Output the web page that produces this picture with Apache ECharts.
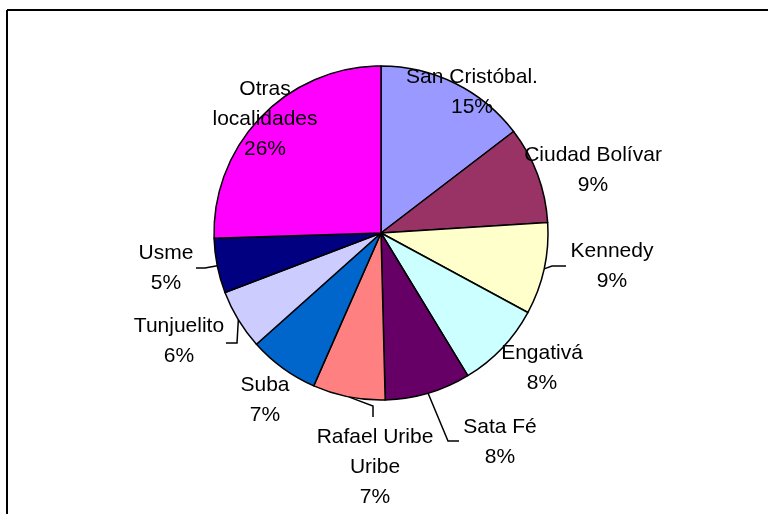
<!DOCTYPE html>
<html>
<head>
<meta charset="utf-8">
<script src="https://cdn.jsdelivr.net/npm/echarts@6/dist/echarts.min.js"></script>
<style>
    html, body { margin: 0; padding: 0; background: #fff; }
    #chart { width: 768px; height: 514px; }
</style>
</head>
<body>
<div id="chart"></div>
<script>
    // localidades, clockwise from 12 o'clock
    var names = ['San Cristóbal.', 'Ciudad Bolívar', 'Kennedy', 'Engativá', 'Sata Fé',
        'Rafael Uribe\nUribe', 'Suba', 'Tunjuelito', 'Usme', 'Otras\nlocalidades']
    var values = [14.6, 9.4, 8.9, 8.4, 8.3, 7.0, 6.8, 5.8, 5.3, 25.5]
    var colors = ['#9999FF', '#993366', '#FFFFCC', '#CCFFFF', '#660066',
        '#FF8080', '#0066CC', '#CCCCFF', '#000080', '#FF00FF']

    // where excel put each label (centre of text block)
    var labelPos = [[472, 92], [593, 170], [612, 266], [542, 368], [500, 442],
        [375, 467], [265, 400], [179, 341], [166, 268], [265, 119]]
    // leader lines: elbow + end, only for labels sitting outside
    var leaders = {
        2: [[552, 266], [566, 266]],
        4: [[448, 441], [459, 441]],
        5: [[373, 406], [373, 417]],
        7: [[237, 343], [226, 343]],
        8: [[205, 268], [196, 268]]
    }

    var chart = echarts.init(document.getElementById('chart'))

    var data = names.map(function (n, i) {
        return {
            name: n,
            value: values[i],
            itemStyle: { color: colors[i] },
            labelLine: { show: !!leaders[i] }
        }
    })

    chart.setOption({
        animation: false,
        graphic: [
            { type: 'line', shape: { x1: 7, y1: 10, x2: 780, y2: 10 }, style: { stroke: '#000', lineWidth: 2 } },
            { type: 'line', shape: { x1: 7, y1: 10, x2: 7, y2: 530 }, style: { stroke: '#000', lineWidth: 2 } }
        ],
        series: [
            {
                type: 'pie',
                center: [381, 233],
                radius: 167,
                startAngle: 90,
                clockwise: true,
                percentPrecision: 0,
                avoidLabelOverlap: false,
                itemStyle: { borderColor: '#000', borderWidth: 1.5 },
                label: {
                    show: true,
                    position: 'outside',
                    formatter: '{b}\n{d}%',
                    color: '#000',
                    fontFamily: 'Liberation Sans, Arial, sans-serif',
                    fontSize: 21,
                    lineHeight: 30
                },
                labelLine: {
                    lineStyle: { color: '#000', width: 1.5 }
                },
                labelLayout: function (p) {
                    var i = p.dataIndex
                    var out = {
                        x: labelPos[i][0],
                        y: labelPos[i][1],
                        align: 'center',
                        verticalAlign: 'middle'
                    }
                    if (leaders[i] && p.labelLinePoints) {
                        out.labelLinePoints = [p.labelLinePoints[0], leaders[i][0], leaders[i][1]]
                    }
                    return out
                },
                data: data
            }
        ]
    })
</script>
</body>
</html>
